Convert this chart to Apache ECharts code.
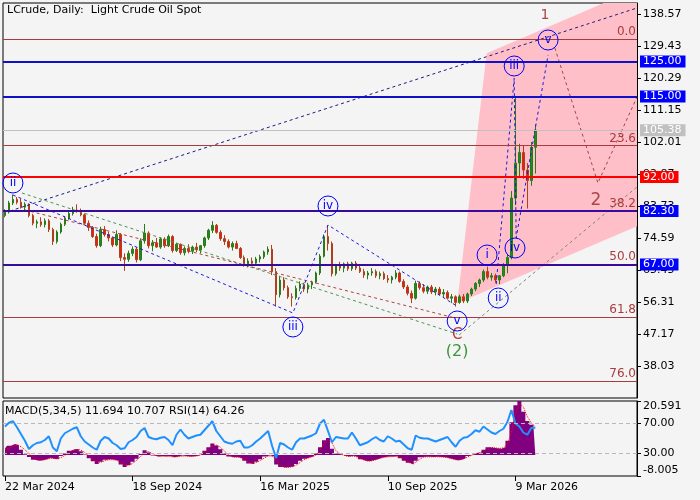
<!DOCTYPE html>
<html><head><meta charset="utf-8">
<script src="https://cdn.jsdelivr.net/npm/echarts@6/dist/echarts.min.js"></script>
<style>html,body{margin:0;padding:0;background:#f4f4f4}#c{width:700px;height:500px}</style>
</head><body><div id="c"></div>
<script>
const opens=[81.0,82.0,84.6,85.6,84.8,83.4,84.2,81.0,78.8,79.2,
78.4,79.5,77.0,73.6,76.3,78.5,80.2,81.6,82.6,82.4,
81.2,78.8,77.6,75.0,72.4,77.0,75.6,74.6,72.6,75.6,
69.0,68.5,70.2,71.4,68.4,73.8,76.0,72.4,73.2,72.0,
74.3,72.4,75.0,71.0,72.8,70.4,71.6,70.8,72.0,71.2,
72.4,74.6,76.8,78.2,76.2,74.4,73.6,72.0,73.0,71.6,
69.0,67.2,68.0,67.4,68.6,69.2,70.6,71.4,65.0,58.4,
62.6,60.4,57.8,57.6,60.2,61.4,60.0,61.2,62.0,64.6,
69.4,75.0,73.0,64.4,66.6,66.0,67.2,65.8,67.4,66.0,
65.0,64.0,64.6,65.0,63.8,64.4,63.0,62.6,63.4,64.6,
62.2,60.6,58.8,57.4,61.6,60.4,59.4,60.6,59.2,60.0,
58.6,59.0,57.4,57.8,56.2,57.8,56.6,58.6,60.0,61.6,
62.6,65.0,63.4,63.8,62.6,63.8,66.8,69.0,86.0,96.0,
99.0,94.0,91.0,100.5];
const highs=[82.8,85.2,87.0,86.3,85.8,84.8,84.5,81.5,79.8,80.5,
80.2,80.0,77.5,76.8,79.0,80.8,82.4,83.5,84.2,83.0,
81.6,79.6,78.0,75.8,77.8,78.0,76.4,75.0,76.8,76.0,
70.2,71.0,72.2,72.0,74.5,78.6,76.5,74.0,74.6,74.8,
74.8,75.6,75.4,73.2,73.0,72.2,72.8,72.4,73.2,72.6,
75.0,77.2,79.4,78.6,76.8,75.4,74.2,73.6,73.8,72.0,
69.6,68.8,69.0,69.2,69.8,71.0,72.2,72.6,66.0,63.8,
63.4,61.0,58.8,61.0,62.2,61.8,61.8,62.4,65.0,70.0,
75.6,78.2,73.6,67.2,67.8,67.6,67.8,67.8,68.0,67.0,
65.8,65.2,66.0,65.6,65.0,65.0,64.0,63.8,65.4,65.0,
62.8,61.2,59.6,62.4,62.2,61.4,61.0,61.2,60.6,60.6,
60.0,59.6,58.6,58.2,58.4,58.6,59.0,60.4,62.0,63.0,
65.6,66.4,64.6,64.4,64.0,67.4,70.0,88.0,114.9,101.5,
101.0,96.0,102.0,107.0];
const lows=[80.5,81.6,84.0,84.2,83.0,82.2,80.5,78.2,77.4,77.8,
77.6,76.3,72.6,73.0,75.8,78.0,79.8,81.0,81.8,80.8,
78.4,76.6,74.6,71.8,72.0,75.0,73.6,72.0,72.2,68.0,
65.2,67.8,69.4,67.6,68.0,73.0,71.6,70.8,71.8,71.5,
71.8,72.0,70.4,70.6,69.8,69.6,70.2,70.0,70.6,70.2,
71.8,74.0,76.0,75.8,73.8,72.6,71.6,71.0,71.4,68.6,
66.4,66.2,66.8,66.8,67.6,68.6,69.8,64.0,55.0,57.6,
59.6,57.2,55.0,57.0,59.4,59.2,58.8,60.0,61.6,64.0,
69.0,71.0,63.6,63.8,65.2,64.8,65.2,65.2,65.4,64.6,
63.2,62.8,63.8,63.2,62.8,62.6,61.8,61.6,62.8,61.8,
60.0,58.2,56.0,57.0,59.8,58.8,58.6,58.6,58.2,58.2,
57.6,57.0,56.0,55.0,55.8,56.0,56.0,58.0,59.4,60.6,
62.0,62.8,62.4,61.8,61.4,63.4,64.5,68.5,84.0,92.0,
91.5,83.0,89.5,93.0];
const closes=[82.0,84.6,85.6,84.8,83.4,84.2,81.0,78.8,79.2,78.4,
79.5,77.0,73.6,76.3,78.5,80.2,81.6,82.6,82.4,81.2,
78.8,77.6,75.0,72.4,77.0,75.6,74.6,72.6,75.6,69.0,
68.5,70.2,71.4,68.4,73.8,76.0,72.4,73.2,72.0,74.3,
72.4,75.0,71.0,72.8,70.4,71.6,70.8,72.0,71.2,72.4,
74.6,76.8,78.2,76.2,74.4,73.6,72.0,73.0,71.6,69.0,
67.2,68.0,67.4,68.6,69.2,70.6,71.4,65.0,58.4,62.6,
60.4,57.8,57.6,60.2,61.4,60.0,61.2,62.0,64.6,69.4,
75.0,73.0,64.4,66.6,66.0,67.2,65.8,67.4,66.0,65.0,
64.0,64.6,65.0,63.8,64.4,63.0,62.6,63.4,64.6,62.2,
60.6,58.8,57.4,61.6,60.4,59.4,60.6,59.2,60.0,58.6,
59.0,57.4,57.8,56.2,57.8,56.6,58.6,60.0,61.6,62.6,
65.0,63.4,63.8,62.6,63.8,66.8,69.0,86.0,96.0,99.0,
94.0,91.0,100.5,105.38];

const macdHist=[2.5,3.5,4.2,3.8,2.0,0.3,-0.8,-1.8,-2.2,-2.0,
-1.6,-1.0,-1.5,-1.6,-0.4,0.6,1.6,2.2,2.3,1.4,
0.2,-1.2,-2.4,-3.4,-2.6,-1.8,-1.6,-1.8,-2.2,-3.6,
-4.6,-3.8,-2.6,-1.4,0.4,1.8,1.0,-0.2,-0.6,-0.4,
-0.5,-0.4,-0.9,-0.6,-0.2,-0.4,-0.6,-0.5,-0.3,0.4,
1.6,3.0,4.4,3.6,2.2,0.6,-0.6,-0.9,-0.8,-1.2,
-2.2,-3.2,-3.4,-2.6,-1.6,-0.6,-0.1,-0.6,-3.6,-4.6,
-4.8,-4.6,-4.4,-3.4,-2.2,-1.4,-0.9,-0.5,0.6,3.0,
5.6,6.5,2.4,0.6,0.2,-0.4,-0.6,-0.3,-0.8,-1.6,
-2.2,-2.4,-2.0,-1.6,-1.0,-0.8,-0.6,-0.6,-0.4,-1.2,
-2.2,-3.0,-3.6,-2.2,-0.9,-0.7,-0.7,-0.8,-0.7,-0.8,
-0.9,-1.2,-1.6,-2.0,-1.8,-1.2,-0.4,0.2,0.8,1.0,
2.0,3.0,2.8,2.6,2.4,3.0,5.4,12.5,19.0,20.591,
16.5,13.0,11.5,11.694];
const macdSignal=[2.0,2.6,3.3,3.7,3.2,2.0,0.6,-0.6,-1.5,-2.0,
-1.8,-1.4,-1.3,-1.4,-1.0,-0.2,0.8,1.6,2.1,1.9,
1.0,-0.3,-1.5,-2.6,-2.8,-2.2,-1.8,-1.8,-2.0,-2.8,
-3.8,-4.0,-3.2,-2.0,-0.6,0.9,1.3,0.5,-0.3,-0.5,
-0.5,-0.5,-0.7,-0.7,-0.5,-0.4,-0.5,-0.5,-0.4,0.0,
0.9,2.2,3.6,3.8,3.0,1.5,0.1,-0.7,-0.8,-1.0,
-1.6,-2.6,-3.2,-2.9,-2.1,-1.2,-0.4,-0.4,-2.0,-3.8,
-4.6,-4.7,-4.5,-3.9,-2.9,-1.8,-1.2,-0.7,0.0,1.7,
4.2,5.9,4.6,1.6,0.5,-0.1,-0.5,-0.4,-0.6,-1.2,
-1.9,-2.3,-2.2,-1.8,-1.3,-0.9,-0.7,-0.6,-0.5,-0.8,
-1.7,-2.6,-3.3,-2.8,-1.6,-0.8,-0.7,-0.7,-0.7,-0.7,
-0.8,-1.0,-1.4,-1.8,-1.9,-1.5,-0.8,-0.1,0.5,0.9,
1.5,2.5,2.9,2.7,2.5,2.7,4.1,8.7,15.5,19.6,
18.3,14.6,12.3,10.707];
const rsi=[66,71,73,65,56,47,36,41,44,45,
48,53,38,33,50,57,60,63,65,53,
46,42,38,35,47,52,50,44,41,36,
37,45,48,52,60,64,52,50,49,51,
52,48,41,55,62,55,50,52,54,55,
61,67,73,60,53,46,44,43,46,47,
38,38,41,46,50,55,60,40,24,44,
42,38,35,45,50,50,52,54,57,70,
75,60,45,52,51,50,50,58,50,41,
43,45,49,52,48,46,53,50,46,47,
42,37,35,54,51,50,50,48,46,48,
50,52,45,39,47,51,52,56,61,59,
66,62,58,56,60,63,72,88,70,66,
58,55,64,64.26];

const slotCount=159;
const tickLabels=["22 Mar 2024","18 Sep 2024","16 Mar 2025","10 Sep 2025","9 Mar 2026"];
const tickSlots=[0,32,64,96,128];
const priceMin=28.89, priceMax=141.71, priceStep=9.14;
const macdMin=-8.005, macdMax=20.591;
const rsiLevels=[70,30];

const levels=[125,115,92,82.3,67];
const levelText=["125.00","115.00","92.00","82.30","67.00"];
const bidPrice=105.38;
const fibLevels=[0,23.6,38.2,50,61.8,76];
const fibHigh=131.34, fibLow=2.85;

const waveNames=["ii","iii","iv","v","i","ii","iii","iv","v"];
const waveS=[2.0,72.2,81.0,113.4,120.9,123.7,127.7,127.9,136.2];
const waveV=[90.3,49.17,83.73,50.88,69.73,57.45,123.72,71.73,131.14];
const markText=["C","(2)","1","2"];
const markS=[113.4,113.4,135.4,148.2];
const markV=[46.88,42.02,138.28,85.16];

const navyS=[1.25,158.5], navyV=[82.3,140.28];
const greenAS=[4.26,113.4], greenAV=[87.44,47.17];
const redS=[5.0,112.9], redV=[82.59,51.74];
const blueAS=[2.0,72.2,81.0,112.9], blueAV=[86.87,53.17,78.3,55.45];
const blueBS=[123.2,127.7,128.2,136.2], blueBV=[61.45,120.29,74.59,126.86];
const projS=[137.9,148.7,158.5], projV=[128.86,90.3,114.86];
const greenBS=[113.9,158.5], greenBV=[46.88,89.16];
const pinkS=[113.4,120.8,150.2,158.5,158.5], pinkV=[55.95,127.33,141.71,141.71,77.96];

const FONT='DejaVu Sans';
const levelColors=['#1010c8','#1010c8','#ff0000','#3a0a9a','#3a0a9a'];
const tagColors=['#0000ff','#0000ff','#ff0000','#0000ff','#0000ff'];
const fibColor='#a83c3c';
const markColors=['#b04040','#3c963c','#a84848','#a84848'];
const markSizes=[15,16,14,17];

const categories=Array.from({length:slotCount},(_,i)=>{const k=tickSlots.indexOf(i);return k>=0?tickLabels[k]:'';});
const candleData=opens.map((o,i)=>[o,closes[i],lows[i],highs[i]]);

const hLines=[];
fibLevels.forEach(l=>{
  const v=fibHigh-(fibHigh-fibLow)*l/100;
  hLines.push({yAxis:v,lineStyle:{color:fibColor,width:1,type:'solid'},
    label:{show:true,position:'insideEndTop',formatter:l.toFixed(1),color:fibColor,fontSize:12,fontFamily:FONT,distance:1,padding:0}});
});
hLines.push({yAxis:bidPrice,lineStyle:{color:'#c0c0c0',width:1,type:'solid'},
  label:{show:true,position:'end',formatter:bidPrice.toFixed(2),color:'#fff',backgroundColor:'#c0c0c0',fontSize:11,fontFamily:FONT,padding:[1,4,0,3],distance:3}});
levels.forEach((v,k)=>{
  hLines.push({yAxis:v,lineStyle:{color:levelColors[k],width:2,type:'solid'},
    label:{show:true,position:'end',formatter:levelText[k],color:'#fff',backgroundColor:tagColors[k],fontSize:11,fontFamily:FONT,padding:[1,4,0,3],distance:3}});
});

function dash(S,V,color){
  return {type:'line',xAxisIndex:2,yAxisIndex:0,z:4,symbol:'none',silent:true,
    lineStyle:{color:color,width:1,type:[3,3]},data:S.map((s,k)=>[s,V[k]])};
}
const yLine={show:true,onZero:false,lineStyle:{color:'#000',width:1}};
const yTick={show:true,inside:false,length:4,lineStyle:{color:'#000'}};

const chart=echarts.init(document.getElementById('c'));
chart.setOption({
  animation:false,
  backgroundColor:'#f4f4f4',
  textStyle:{fontFamily:FONT},
  title:[
    {text:'LCrude, Daily:  Light Crude Oil Spot',left:7,top:5,padding:0,textStyle:{fontSize:11,fontWeight:'normal',color:'#000',fontFamily:FONT}},
    {text:'MACD(5,34,5) '+macdHist[macdHist.length-1]+' '+macdSignal[macdSignal.length-1]+' RSI(14) '+rsi[rsi.length-1],left:5,top:406,padding:0,textStyle:{fontSize:11,fontWeight:'normal',color:'#000',fontFamily:FONT}}
  ],
  grid:[
    {left:3,top:3,width:634,height:395,show:true,borderColor:'#000',borderWidth:1,backgroundColor:'#f4f4f4'},
    {left:3,top:401,width:634,height:75,show:true,borderColor:'#000',borderWidth:1,backgroundColor:'#f4f4f4'}
  ],
  xAxis:[
    {type:'category',gridIndex:0,position:'bottom',data:categories,boundaryGap:true,axisLine:{show:false,onZero:false},axisTick:{show:false},axisLabel:{show:false},splitLine:{show:false}},
    {type:'category',gridIndex:1,position:'bottom',data:categories,boundaryGap:true,axisLine:{show:false,onZero:false},
      axisTick:{show:true,alignWithLabel:true,length:5,interval:(i)=>tickSlots.indexOf(i)>=0,lineStyle:{color:'#000'}},
      axisLabel:{show:true,interval:(i)=>tickSlots.indexOf(i)>=0,align:'left',margin:6,fontSize:11,color:'#000',fontFamily:FONT},splitLine:{show:false}},
    {type:'value',gridIndex:0,position:'top',min:-0.5,max:slotCount-0.5,show:false,axisLine:{show:false,onZero:false},axisTick:{show:false},axisLabel:{show:false},splitLine:{show:false}}
  ],
  yAxis:[
    {type:'value',gridIndex:0,position:'right',min:priceMin,max:priceMax,interval:priceStep,
      axisLine:yLine,axisTick:yTick,splitLine:{show:false},
      axisLabel:{showMinLabel:false,showMaxLabel:false,margin:6,fontSize:11,color:'#000',fontFamily:FONT,formatter:v=>v.toFixed(2)}},
    {type:'value',gridIndex:1,position:'right',min:macdMin,max:macdMax,interval:macdMax-macdMin,
      axisLine:yLine,axisTick:yTick,splitLine:{show:false},
      axisLabel:{margin:6,fontSize:11,color:'#000',fontFamily:FONT,verticalAlignMinLabel:'bottom',verticalAlignMaxLabel:'top',formatter:v=>v.toFixed(3)}},
    {type:'value',gridIndex:1,position:'right',min:0,max:100,
      axisLine:{show:false,onZero:false},axisTick:{show:true,length:4,customValues:rsiLevels,lineStyle:{color:'#000'}},splitLine:{show:false},
      axisLabel:{margin:6,fontSize:11,color:'#000',fontFamily:FONT,customValues:rsiLevels,formatter:v=>v.toFixed(2)}}
  ],
  series:[
    {type:'custom',xAxisIndex:2,yAxisIndex:0,z:1,silent:true,data:[[0,50]],
      renderItem:(params,api)=>({type:'polygon',shape:{points:pinkS.map((s,k)=>api.coord([s,pinkV[k]]))},style:{fill:'#ffbfc8'}})},
    {type:'candlestick',xAxisIndex:0,yAxisIndex:0,z:2,data:candleData,barWidth:2,silent:true,
      itemStyle:{color:'#1e8c1e',color0:'#ee1a1a',borderColor:'#2a7a1a',borderColor0:'#b0401a',borderWidth:1},
      markLine:{symbol:['none','none'],silent:true,animation:false,data:hLines}},
    dash(navyS,navyV,'#1c1c80'),
    dash(greenAS,greenAV,'#4e944e'),
    dash(redS,redV,'#b04040'),
    dash(blueAS,blueAV,'#1a1ae0'),
    dash(blueBS,blueBV,'#1a1ae0'),
    dash(projS,projV,'#a04545'),
    dash(greenBS,greenBV,'#7a8a7a'),
    {type:'scatter',xAxisIndex:2,yAxisIndex:0,z:6,silent:true,symbol:'circle',symbolSize:20,
      itemStyle:{color:'rgba(0,0,0,0)',borderColor:'#0000ff',borderWidth:1,opacity:1},
      label:{show:true,position:'inside',color:'#0000ff',fontSize:12,fontFamily:FONT,formatter:p=>p.name},
      data:waveNames.map((n,k)=>({name:n,value:[waveS[k],waveV[k]]}))},
    {type:'scatter',xAxisIndex:2,yAxisIndex:0,z:5,silent:true,symbol:'circle',symbolSize:1,
      itemStyle:{color:'rgba(0,0,0,0)',opacity:1},
      data:markText.map((t,k)=>({name:t,value:[markS[k],markV[k]],
        label:{show:true,position:'inside',formatter:t,color:markColors[k],fontSize:markSizes[k],fontFamily:FONT}}))},
    {type:'line',xAxisIndex:1,yAxisIndex:1,silent:true,symbol:'none',data:macdHist,step:'middle',
      lineStyle:{width:0},areaStyle:{color:'#800080',opacity:1,origin:0}},
    {type:'line',xAxisIndex:1,yAxisIndex:1,silent:true,symbol:'none',data:macdSignal,lineStyle:{color:'#ff0000',width:1,type:'dotted'}},
    {type:'line',xAxisIndex:1,yAxisIndex:2,silent:true,symbol:'none',data:rsi,z:4,lineStyle:{color:'#1e90ff',width:2},
      markLine:{symbol:['none','none'],silent:true,label:{show:false},lineStyle:{color:'#b8b8b8',type:[4,3],width:1},
        data:rsiLevels.map(v=>({yAxis:v}))}}
  ]
});
</script></body></html>
